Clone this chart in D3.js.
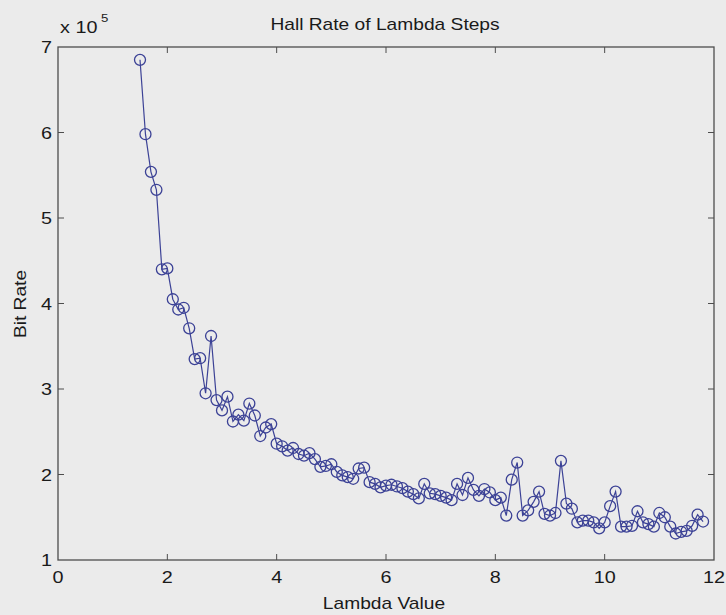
<!DOCTYPE html>
<html>
<head>
<meta charset="utf-8">
<script src="https://cdn.jsdelivr.net/npm/d3@7"></script>
<style>
  html, body { margin: 0; padding: 0; background: #ebebeb; }
  svg { display: block; }
  text { font-family: "Liberation Sans", Arial, sans-serif; fill: #1a1a1a; }
</style>
</head>
<body>
<svg id="chart"></svg>
<script>
const lambdaValues = [
  1.5, 1.6, 1.7, 1.8, 1.9, 2.0, 2.1, 2.2, 2.3, 2.4,
  2.5, 2.6, 2.7, 2.8, 2.9, 3.0, 3.1, 3.2, 3.3, 3.4,
  3.5, 3.6, 3.7, 3.8, 3.9, 4.0, 4.1, 4.2, 4.3, 4.4,
  4.5, 4.6, 4.7, 4.8, 4.9, 5.0, 5.1, 5.2, 5.3, 5.4,
  5.5, 5.6, 5.7, 5.8, 5.9, 6.0, 6.1, 6.2, 6.3, 6.4,
  6.5, 6.6, 6.7, 6.8, 6.9, 7.0, 7.1, 7.2, 7.3, 7.4,
  7.5, 7.6, 7.7, 7.8, 7.9, 8.0, 8.1, 8.2, 8.3, 8.4,
  8.5, 8.6, 8.7, 8.8, 8.9, 9.0, 9.1, 9.2, 9.3, 9.4,
  9.5, 9.6, 9.7, 9.8, 9.9, 10.0, 10.1, 10.2, 10.3, 10.4,
  10.5, 10.6, 10.7, 10.8, 10.9, 11.0, 11.1, 11.2, 11.3, 11.4,
  11.5, 11.6, 11.7, 11.8
];

// bit rate, in units of 1e5
const bitRate = [
  6.85, 5.98, 5.54, 5.33, 4.40, 4.41, 4.05, 3.93, 3.95, 3.71,
  3.35, 3.36, 2.95, 3.62, 2.87, 2.75, 2.91, 2.62, 2.70, 2.63,
  2.83, 2.69, 2.45, 2.55, 2.59, 2.36, 2.33, 2.28, 2.31, 2.24,
  2.22, 2.25, 2.18, 2.09, 2.10, 2.12, 2.03, 1.99, 1.97, 1.95,
  2.07, 2.08, 1.91, 1.89, 1.85, 1.87, 1.88, 1.86, 1.84, 1.80,
  1.77, 1.72, 1.89, 1.78, 1.77, 1.75, 1.73, 1.70, 1.89, 1.76,
  1.96, 1.82, 1.75, 1.83, 1.79, 1.70, 1.73, 1.52, 1.94, 2.14,
  1.52, 1.58, 1.68, 1.80, 1.54, 1.52, 1.55, 2.16, 1.66, 1.60,
  1.44, 1.46, 1.46, 1.44, 1.37, 1.44, 1.63, 1.80, 1.39, 1.39,
  1.40, 1.57, 1.44, 1.42, 1.39, 1.55, 1.50, 1.39, 1.31, 1.33,
  1.34, 1.40, 1.53, 1.45
];

const xTicks = [0, 2, 4, 6, 8, 10, 12];
const yTicks = [1, 2, 3, 4, 5, 6, 7];

const titleText = 'Hall Rate of Lambda Steps';
const xLabel = 'Lambda Value';
const yLabel = 'Bit Rate';

const width = 726;
const height = 615;
const margin = { top: 47, right: 12, bottom: 55, left: 58 };
const lineColor = '#3c4296';
const axisColor = '#4d4d4d';
const stretch = 1.2;

const svg = d3.select('#chart').attr('width', width).attr('height', height);

svg.append('rect')
  .attr('width', width)
  .attr('height', height)
  .attr('fill', '#ebebeb');

const x = d3.scaleLinear().domain([0, 12]).range([margin.left, width - margin.right]);
const y = d3.scaleLinear().domain([1, 7]).range([height - margin.bottom, margin.top]);

const points = lambdaValues.map((l, i) => ({ x: l, y: bitRate[i] }));

// frame
svg.append('rect')
  .attr('x', x(0))
  .attr('y', y(7))
  .attr('width', x(12) - x(0))
  .attr('height', y(1) - y(7))
  .attr('fill', 'none')
  .attr('stroke', axisColor)
  .attr('stroke-width', 1.3);

// inward ticks (bottom/top, left/right)
const tickLen = 6;
const tickG = svg.append('g').attr('stroke', axisColor).attr('stroke-width', 1);
xTicks.slice(1, -1).forEach((t) => {
  tickG.append('line').attr('x1', x(t)).attr('x2', x(t)).attr('y1', y(1)).attr('y2', y(1) - tickLen);
  tickG.append('line').attr('x1', x(t)).attr('x2', x(t)).attr('y1', y(7)).attr('y2', y(7) + tickLen);
});
yTicks.slice(1, -1).forEach((t) => {
  tickG.append('line').attr('x1', x(0)).attr('x2', x(0) + tickLen).attr('y1', y(t)).attr('y2', y(t));
  tickG.append('line').attr('x1', x(12)).attr('x2', x(12) - tickLen).attr('y1', y(t)).attr('y2', y(t));
});

function stretchedText(px, py, str, size, anchor, rotate) {
  const g = svg.append('g')
    .attr('transform', 'translate(' + px + ',' + py + ')' + (rotate ? ' rotate(' + rotate + ')' : '') + ' scale(' + stretch + ',1)');
  return g.append('text')
    .attr('text-anchor', anchor)
    .attr('font-size', size)
    .text(str);
}

// tick labels
xTicks.forEach((t) => stretchedText(x(t), 583, String(t), 16.5, 'middle'));
yTicks.forEach((t) => stretchedText(52, y(t) + 6, String(t), 16.5, 'end'));

// exponent marker
stretchedText(60, 33, 'x 10', 16.5, 'start');
stretchedText(101, 22, '5', 11, 'start');

// titles
stretchedText(385, 30, titleText, 16, 'middle');
stretchedText(384, 609, xLabel, 16, 'middle');
stretchedText(26, 304, yLabel, 16, 'middle', -90);

// series
const line = d3.line().x((d) => x(d.x)).y((d) => y(d.y));
svg.append('path')
  .datum(points)
  .attr('d', line)
  .attr('fill', 'none')
  .attr('stroke', lineColor)
  .attr('stroke-width', 1.2);

svg.append('g')
  .selectAll('circle')
  .data(points)
  .enter()
  .append('circle')
  .attr('cx', (d) => x(d.x))
  .attr('cy', (d) => y(d.y))
  .attr('r', 5.5)
  .attr('fill', 'none')
  .attr('stroke', lineColor)
  .attr('stroke-width', 1.3);
</script>
</body>
</html>
